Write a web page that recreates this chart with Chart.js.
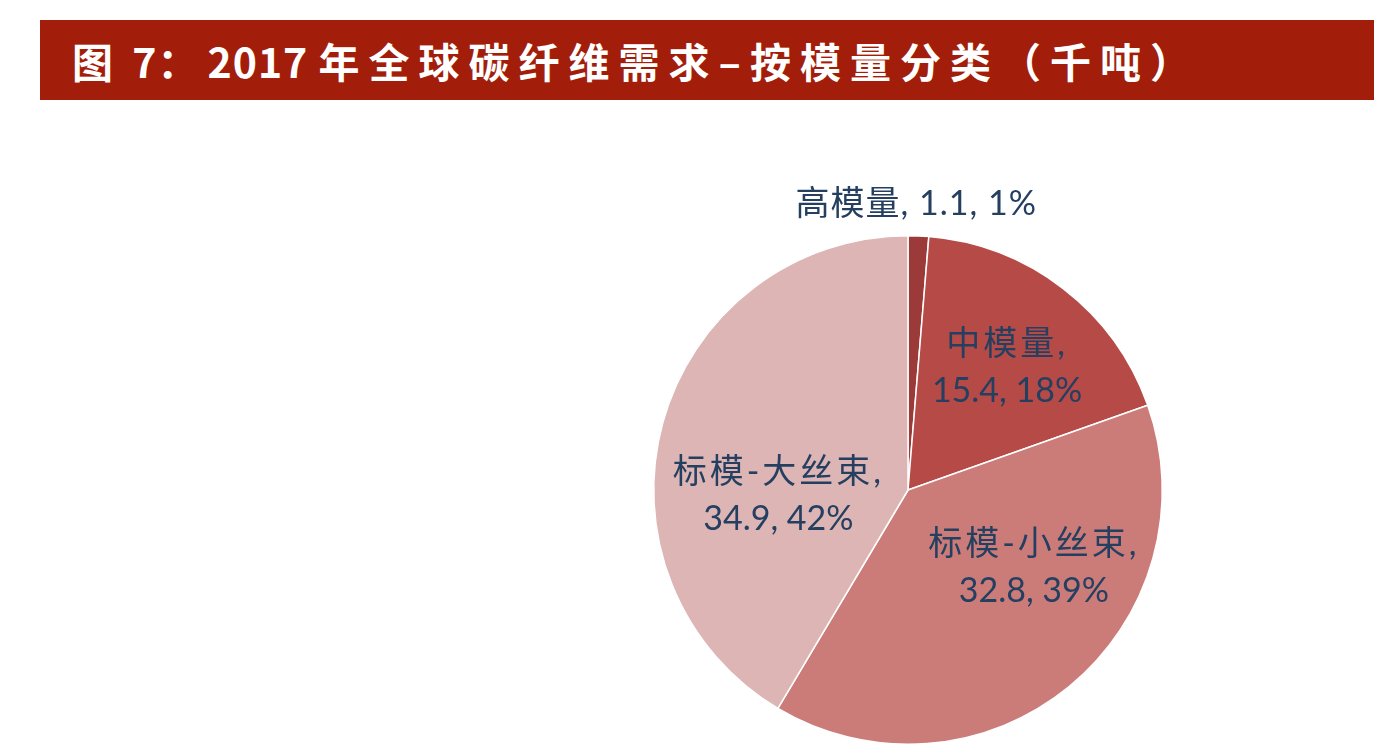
<!DOCTYPE html>
<html><head><meta charset="utf-8">
<script src="https://cdn.jsdelivr.net/npm/chart.js@4"></script>
<style>
html,body{margin:0;padding:0;background:#fff;width:1374px;height:754px;overflow:hidden;}
#bar{position:absolute;left:40px;top:20px;width:1334px;height:80px;background:#A21E0A;z-index:2;}
#title{position:absolute;left:32px;top:0;height:80px;line-height:80px;color:#fff;font-family:"Noto Sans CJK SC",sans-serif;font-weight:700;font-size:41px;letter-spacing:9px;white-space:nowrap;}
#title .n{letter-spacing:1px;}
#wrap{position:absolute;left:0;top:0;width:1374px;height:754px;z-index:1;}
</style></head>
<body>
<div id="bar"><div id="title">图<span class="n"> 7</span>：<span class="n">2017 </span>年全球碳纤维需求–按模量分类（千吨）</div></div>
<div id="wrap"><canvas id="c"></canvas></div>
<script>
const categories = ['高模量', '中模量', '标模-小丝束', '标模-大丝束'];
const values = [1.1, 15.4, 32.8, 34.9];
const percents = [1, 18, 39, 42];
const colors = ['#9C3A39', '#B54A47', '#CB7C79', '#DDB5B4'];

// label placement: fraction of radius and angular shift (degrees) relative to slice mid-angle; twoLine flag
const labelPlacement = [
  {k: 1.125, dA: -0.7, twoLine: false},
  {k: 0.62, dA: 1.3, twoLine: true},
  {k: 0.58, dA: -19.3, twoLine: true},
  {k: 0.51, dA: -17.4, twoLine: true}
];

const labelPlugin = {
  id: 'sliceLabels',
  afterDatasetsDraw(chart) {
    const ctx = chart.ctx;
    const meta = chart.getDatasetMeta(0);
    ctx.save();
    ctx.fillStyle = '#243F60';
    ctx.font = '34px "Lato", "Noto Sans CJK SC", sans-serif';
    ctx.textAlign = 'center';
    ctx.textBaseline = 'middle';
    meta.data.forEach((arc, i) => {
      const p = arc.getProps(['x', 'y', 'startAngle', 'endAngle', 'outerRadius']);
      const mid = (p.startAngle + p.endAngle) / 2 + labelPlacement[i].dA * Math.PI / 180;
      const r = p.outerRadius * labelPlacement[i].k;
      const cx = p.x + Math.cos(mid) * r;
      const cy = p.y + Math.sin(mid) * r;
      const l1 = categories[i] + ',';
      const l2 = values[i].toFixed(1) + ', ' + percents[i] + '%';
      if (labelPlacement[i].twoLine) {
        ctx.letterSpacing = '3px';
        ctx.fillText(l1, cx, cy - 23);
        ctx.letterSpacing = '0px';
        ctx.fillText(l2, cx, cy + 24);
      } else {
        ctx.letterSpacing = '1px';
        ctx.fillText(l1 + ' ' + l2, cx, cy);
      }
    });
    ctx.restore();
  }
};

new Chart(document.getElementById('c'), {
  type: 'pie',
  data: {
    labels: categories,
    datasets: [{
      data: values,
      backgroundColor: colors,
      borderColor: '#ffffff',
      borderWidth: 1.5,
      hoverOffset: 0
    }]
  },
  options: {
    responsive: true,
    maintainAspectRatio: false,
    animation: false,
    layout: {padding: {left: 653, right: 211, top: 235, bottom: 9}},
    plugins: {legend: {display: false}, tooltip: {enabled: false}}
  },
  plugins: [labelPlugin]
});
</script>
</body></html>
